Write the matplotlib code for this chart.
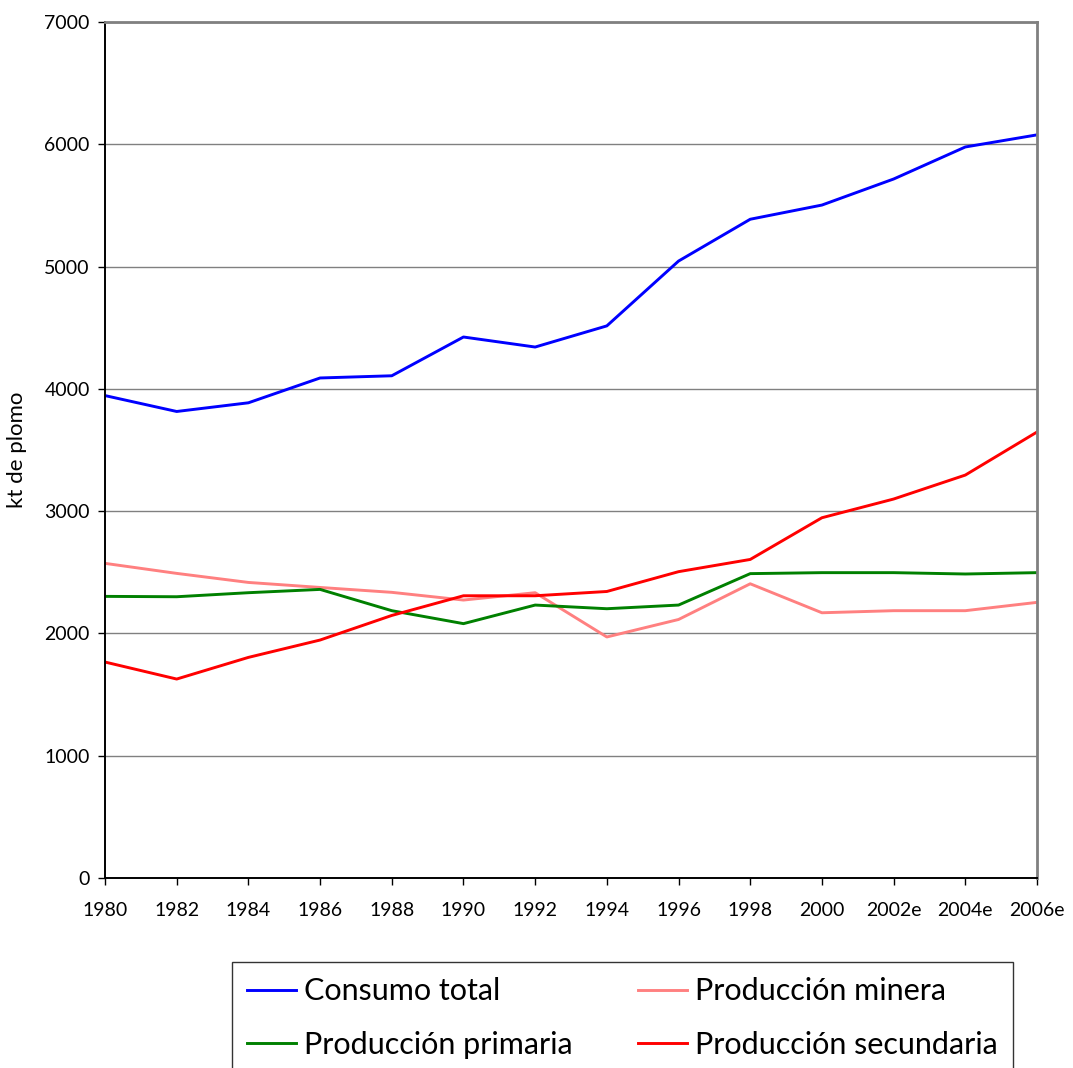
import matplotlib
matplotlib.use("Agg")
import matplotlib.pyplot as plt

plt.rcParams['font.family'] = ['Lato', 'DejaVu Sans']

years = ['1980', '1982', '1984', '1986', '1988', '1990', '1992', '1994',
         '1996', '1998', '2000', '2002e', '2004e', '2006e']

consumo_total = [3945, 3815, 3886, 4089, 4107, 4424, 4342, 4515,
                 5045, 5387, 5503, 5716, 5978, 6077]
prod_minera = [2573, 2491, 2417, 2376, 2336, 2273, 2333, 1971,
               2114, 2406, 2169, 2186, 2186, 2254]
prod_primaria = [2303, 2300, 2333, 2360, 2186, 2080, 2232, 2202,
                 2232, 2489, 2497, 2497, 2486, 2497]
prod_secundaria = [1766, 1627, 1804, 1946, 2147, 2308, 2308, 2343,
                   2505, 2605, 2946, 3099, 3295, 3647]

fig = plt.figure(figsize=(10.73, 10.68), dpi=100)
ax = fig.add_axes([105/1073, 1 - 878/1068, 932/1073, 856/1068])

x = range(len(years))
l1, = ax.plot(x, consumo_total, color='#0000FF', lw=2.1, label='Consumo total')
l2, = ax.plot(x, prod_minera, color='#FF8080', lw=2.1, label='Producción minera')
l3, = ax.plot(x, prod_primaria, color='#008000', lw=2.1, label='Producción primaria')
l4, = ax.plot(x, prod_secundaria, color='#FF0000', lw=2.1, label='Producción secundaria')

ax.set_xlim(0, len(years) - 1)
ax.set_ylim(0, 7000)
ax.set_xticks(list(x))
ax.set_xticklabels(years)
ax.set_yticks(range(0, 7001, 1000))

ax.grid(axis='y', color='#808080', lw=1.0)
ax.set_axisbelow(True)
ax.spines['left'].set_color('black')
ax.spines['bottom'].set_color('black')
ax.spines['left'].set_linewidth(1.4)
ax.spines['bottom'].set_linewidth(1.4)
ax.spines['top'].set_color('#808080')
ax.spines['right'].set_color('#808080')
ax.spines['top'].set_linewidth(2)
ax.spines['right'].set_linewidth(2)

ax.tick_params(axis='y', direction='out', length=5, width=1, labelsize=14, pad=6)
ax.tick_params(axis='x', direction='out', length=5, width=1, labelsize=14, pad=12)

ax.set_ylabel('kt de plomo', fontsize=16)
ax.yaxis.set_label_coords(-0.084, 0.5)

leg = fig.legend(handles=[l1, l3, l2, l4], ncol=2, fontsize=22,
                 loc='upper left', bbox_to_anchor=(232/1073, 1 - 962/1068),
                 frameon=True, fancybox=False, edgecolor='black',
                 handlelength=1.6, handletextpad=0.26, columnspacing=2.15,
                 labelspacing=0.83, borderpad=0.5, borderaxespad=0)
leg.get_frame().set_linewidth(1.0)

fig.savefig('out.png', dpi=100)
